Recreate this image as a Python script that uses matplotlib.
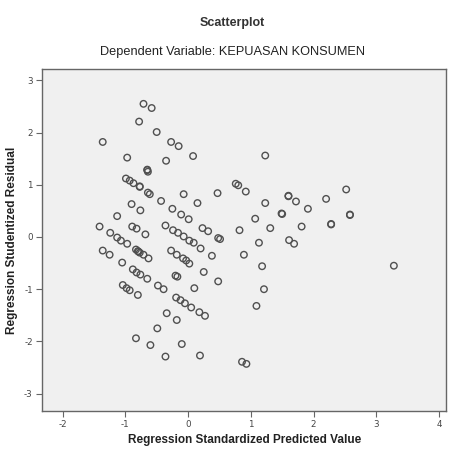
import matplotlib
matplotlib.use("Agg")
import matplotlib.pyplot as plt

# regression standardized predicted value vs studentized residual
pred = [-0.71, -0.58, -0.78, -0.50, -1.36, -0.27, -0.15, 0.08, 1.23, -0.97,
        -0.35, -0.65, -0.64, -0.99, -0.93, -0.87, -0.77, -0.64, -0.61, -0.07,
        0.47, 0.76, 0.80, 0.92, -0.43, 0.15, -0.90, -0.76, -0.25, -0.11,
        0.01, -1.13, -1.41, 1.07, -0.89, -0.82, -0.68, -0.36, -0.24, -0.16,
        -0.07, 0.02, 0.09, 0.23, 0.32, 0.48, 0.51, 0.82, -1.24, -1.13,
        -1.07, -0.97, -1.36, -1.25, -1.05, -0.83, -0.80, -0.77, -0.71, -0.63,
        -0.27, -0.18, -0.08, -0.03, 0.02, 0.20, 0.38, 0.89, -0.88, -0.82,
        -0.76, -0.65, -0.20, -0.17, 0.25, 0.48, -1.04, -0.98, -0.93, -0.80,
        -0.48, -0.39, 0.10, 1.21, 1.09, -0.19, -0.12, -0.05, 0.05, 0.18,
        0.27, -0.34, -0.18, -0.49, -0.83, -0.60, -0.10, -0.36, 0.19, 0.86,
        0.93, 1.60, 1.72, 2.20, 2.52, 1.23, 1.91, 1.49, 2.58, 1.31,
        1.81, 2.28, 1.13, 1.61, 1.69, 1.18, 3.28,
        1.50, 2.58, 2.28, 1.60, -0.65, -0.77, -0.79]
resid = [2.55, 2.47, 2.21, 2.01, 1.82, 1.82, 1.74, 1.55, 1.56, 1.52,
         1.46, 1.29, 1.25, 1.12, 1.08, 1.03, 0.96, 0.85, 0.82, 0.82,
         0.84, 1.02, 0.99, 0.87, 0.69, 0.65, 0.63, 0.51, 0.54, 0.43,
         0.34, 0.40, 0.20, 0.35, 0.20, 0.16, 0.05, 0.22, 0.13, 0.08,
         0.01, -0.07, -0.11, 0.17, 0.11, -0.02, -0.04, 0.13, 0.08, -0.01,
         -0.07, -0.13, -0.26, -0.34, -0.49, -0.24, -0.27, -0.30, -0.34, -0.41,
         -0.26, -0.34, -0.41, -0.45, -0.51, -0.22, -0.36, -0.34, -0.62, -0.68,
         -0.72, -0.80, -0.74, -0.76, -0.67, -0.85, -0.92, -0.98, -1.02, -1.11,
         -0.93, -1.00, -0.98, -1.00, -1.32, -1.16, -1.21, -1.27, -1.35, -1.44,
         -1.51, -1.46, -1.59, -1.75, -1.94, -2.07, -2.05, -2.29, -2.27, -2.39,
         -2.43, 0.78, 0.68, 0.73, 0.91, 0.65, 0.54, 0.45, 0.43, 0.17,
         0.20, 0.25, -0.11, -0.06, -0.13, -0.56, -0.55,
         0.44, 0.42, 0.24, 0.79, 1.28, 0.97, -0.28]

x_ticks = [-2, -1, 0, 1, 2, 3, 4]
y_ticks = [-3, -2, -1, 0, 1, 2, 3]

fig = plt.figure(figsize=(4.5, 4.53), dpi=100)
ax = fig.add_axes([0.093, 0.093, 0.898, 0.755])
ax.set_facecolor("#f0f0f0")

ax.scatter(pred, resid, s=22, facecolors="none", edgecolors="#505050", linewidths=1.0)

ax.set_xlim(-2.33, 4.11)
ax.set_ylim(-3.33, 3.22)
ax.set_xticks(x_ticks)
ax.set_yticks(y_ticks)
ax.set_xticklabels([str(t) for t in x_ticks])
ax.set_yticklabels([str(t) for t in y_ticks])
ax.tick_params(direction="out", length=4, width=0.8, colors="#666666", labelsize=6.3, labelcolor="#444444", pad=2.5)
for s in ax.spines.values():
    s.set_color("#666666")
    s.set_linewidth(1.0)

lab = ["Liberation Sans", "DejaVu Sans"]
fig.text(0.516, 0.949, "Scatterplot", ha="center", va="center", fontsize=9, fontweight="bold", family=lab, color="#333333")
fig.text(0.516, 0.885, "Dependent Variable: KEPUASAN KONSUMEN", ha="center", va="center", fontsize=9.2, family=lab, color="#222222")
fig.text(0.544, 0.028, "Regression Standardized Predicted Value", ha="center", va="center", fontsize=8.5, fontweight="bold", family=lab, color="#222222")
fig.text(0.027, 0.47, "Regression Studentized Residual", ha="center", va="center", rotation=90, fontsize=8.5, fontweight="bold", family=lab, color="#222222")

plt.savefig("out.png", dpi=100, facecolor="white")
